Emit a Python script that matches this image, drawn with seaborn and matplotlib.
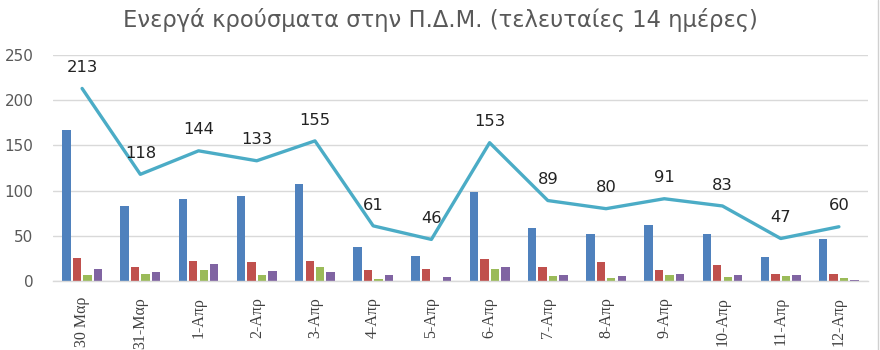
import numpy as np
import pandas as pd
import matplotlib
matplotlib.use("Agg")
import matplotlib.pyplot as plt
from matplotlib.ticker import FixedLocator
import seaborn as sns

# Daily values
dates = ["30 Μαρ", "31-Μαρ", "1-Απρ", "2-Απρ", "3-Απρ", "4-Απρ", "5-Απρ",
         "6-Απρ", "7-Απρ", "8-Απρ", "9-Απρ", "10-Απρ", "11-Απρ", "12-Απρ"]
active_total = [213, 118, 144, 133, 155, 61, 46, 153, 89, 80, 91, 83, 47, 60]
series_a = [167, 83, 91, 94, 107, 38, 28, 98, 59, 52, 62, 52, 27, 47]
series_b = [25, 16, 22, 21, 22, 12, 13, 24, 16, 21, 12, 18, 8, 8]
series_c = [7, 8, 12, 7, 15, 2, 0, 13, 6, 3, 7, 4, 5, 3]
series_d = [13, 10, 19, 11, 10, 7, 4, 16, 7, 5, 8, 7, 7, 1]
series_names = ["Σειρά 1", "Σειρά 2", "Σειρά 3", "Σειρά 4"]
bar_colors = ["#4f81bd", "#c0504d", "#9bbb59", "#8064a2"]
line_color = "#4bacc6"

bars = pd.DataFrame({
    "date": dates * 4,
    "series": np.repeat(series_names, len(dates)),
    "value": series_a + series_b + series_c + series_d,
})
totals = pd.DataFrame({"date": dates, "active": active_total})

sns.set_theme(style="white")
plt.rcParams["font.family"] = ["DejaVu Sans"]

fig = plt.figure(figsize=(8.8, 3.5), dpi=100)
ax = fig.add_axes([53 / 880, 69 / 350, 815 / 880, 226 / 350])

sns.barplot(data=bars, x="date", y="value", hue="series", order=dates,
            hue_order=series_names, palette=bar_colors, width=0.72, gap=0.2,
            legend=False, saturation=1, linewidth=0, ax=ax)
sns.pointplot(data=totals, x="date", y="active", order=dates, color=line_color,
              markers="", linestyles="-", linewidth=2.4, ax=ax)

for i, v in enumerate(active_total):
    ax.annotate(str(v), (i, v), xytext=(0, 15), textcoords="offset points",
                ha="center", va="center", fontsize=11.8, color="#222222")

ax.set_ylim(0, 250)
ax.set_xlim(-0.5, len(dates) - 0.5)
ax.set_yticks([0, 50, 100, 150, 200, 250])
ax.yaxis.grid(True, color="#d9d9d9", linewidth=1)
ax.set_axisbelow(True)
ax.set_xlabel("")
ax.set_ylabel("")
for side in ["left", "right", "top"]:
    ax.spines[side].set_visible(False)
ax.spines["bottom"].set_color("#d9d9d9")
ax.spines["bottom"].set_linewidth(1)

ax.tick_params(axis="y", length=0, pad=14, labelsize=11, labelcolor="#595959")
ax.tick_params(axis="x", which="major", length=0, pad=11.5)
ax.xaxis.set_minor_locator(FixedLocator(np.arange(-0.5, len(dates), 1.0)))
ax.tick_params(axis="x", which="minor", length=52, width=1, color="#d9d9d9",
               direction="out")
ax.set_xticks(range(len(dates)))
ax.set_xticklabels(dates, rotation=90, va="top", ha="center",
                   fontsize=11.5, color="#404040", family="Liberation Serif")

fig.text(0.5, 1 - 20 / 350, "Ενεργά κρούσματα στην Π.Δ.Μ. (τελευταίες 14 ημέρες)",
         ha="center", va="center", fontsize=16.3, color="#595959")
fig.add_artist(plt.Line2D([878 / 880, 878 / 880], [0, 1], color="#d0d0d0",
                          linewidth=1, transform=fig.transFigure))

fig.savefig("out.png", dpi=100, facecolor="white")
